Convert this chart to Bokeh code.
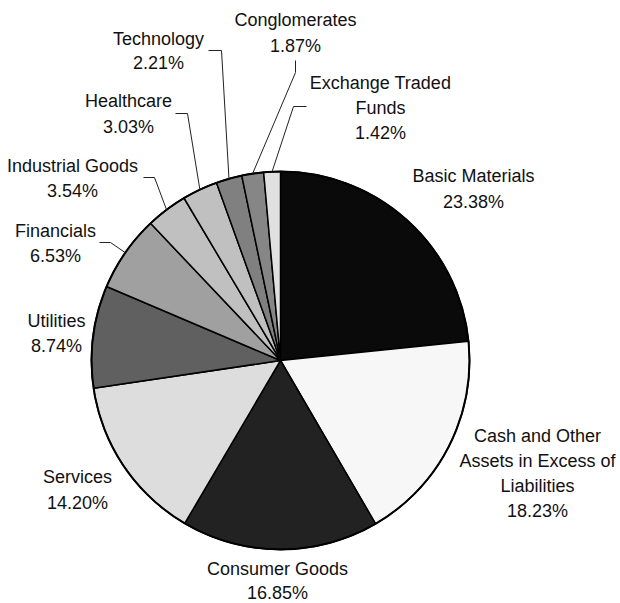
import math
from bokeh.plotting import figure
from bokeh.models import Range1d, ColumnDataSource
from bokeh.core.properties import value
from bokeh.embed import file_html
from bokeh.resources import INLINE

# ---- data ----
categories = ["Basic Materials", "Cash and Other Assets in Excess of Liabilities",
              "Consumer Goods", "Services", "Utilities", "Financials",
              "Industrial Goods", "Healthcare", "Technology", "Conglomerates",
              "Exchange Traded Funds"]
percents = [23.38, 18.23, 16.85, 14.20, 8.74, 6.53, 3.54, 3.03, 2.21, 1.87, 1.42]
label_lines = [
    ["Basic Materials"],
    ["Cash and Other", "Assets in Excess of", "Liabilities"],
    ["Consumer Goods"],
    ["Services"],
    ["Utilities"],
    ["Financials"],
    ["Industrial Goods"],
    ["Healthcare"],
    ["Technology"],
    ["Conglomerates"],
    ["Exchange Traded", "Funds"],
]
colors = ["#0a0a0a", "#f7f7f7", "#222222", "#dddddd", "#606060", "#a0a0a0",
          "#c0c0c0", "#c0c0c0", "#808080", "#868686", "#e0e0e0"]

# ---- layout (pixel coords, y downward) ----
W, H = 620, 603
CX, CY, R = 280, 360, 189
LINE_H = 25.5
label_pos = {  # center x, first line y, line spacing
    "Basic Materials": (473, 175, 26),
    "Cash and Other Assets in Excess of Liabilities": (537, 435, 25),
    "Consumer Goods": (277, 568, 24),
    "Services": (77, 476, 26),
    "Utilities": (56, 320, 25),
    "Financials": (55, 230, 25),
    "Industrial Goods": (72, 165, 25),
    "Healthcare": (128, 100, 26),
    "Technology": (158, 38, 24),
    "Conglomerates": (295, 19, 26),
    "Exchange Traded Funds": (380, 82, 25),
}
leader_elbows = {
    "Financials": [(99, 242), (110, 242)],
    "Industrial Goods": [(143, 177), (154, 177)],
    "Healthcare": [(175, 113), (187, 113)],
    "Technology": [(208, 50), (221, 50)],
    "Conglomerates": [(295, 60), (295, 72)],
    "Exchange Traded Funds": [(306, 106), (293, 106)],
}

def Y(y):
    return H - y

p = figure(width=W, height=H, x_range=Range1d(0, W), y_range=Range1d(0, H),
           output_backend="svg", toolbar_location=None, min_border=0,
           x_axis_type=None, y_axis_type=None)
p.outline_line_color = None
p.grid.visible = False
p.background_fill_color = "white"
p.border_fill_color = "white"

total = sum(percents)
starts, ends, mids = [], [], []
cum = 0.0
for v in percents:
    a0 = math.pi / 2 - 2 * math.pi * cum / total
    cum += v
    a1 = math.pi / 2 - 2 * math.pi * cum / total
    starts.append(a0)
    ends.append(a1)
    mids.append((a0 + a1) / 2)

src = ColumnDataSource(dict(start=starts, end=ends, color=colors))
p.wedge(x=CX, y=Y(CY), radius=R, start_angle="start", end_angle="end",
        direction="clock", fill_color="color", line_color="black",
        line_width=1.5, source=src)
p.circle(x=[CX], y=[Y(CY)], radius=R, fill_color=None, line_color="black",
         line_width=2)

# leader lines
xs, ys = [], []
for cat, m in zip(categories, mids):
    if cat in leader_elbows:
        pts = leader_elbows[cat]
        ex = CX + R * math.cos(m)
        ey = Y(CY) + R * math.sin(m)
        xs.append([pts[0][0], pts[1][0], ex])
        ys.append([Y(pts[0][1]), Y(pts[1][1]), ey])
p.multi_line(xs=xs, ys=ys, line_color="#222222", line_width=1)

# labels
tx, ty, tt = [], [], []
for cat, lines, v in zip(categories, label_lines, percents):
    x0, y0, dy = label_pos[cat]
    for i, t in enumerate(lines + [f"{v:.2f}%"]):
        tx.append(x0)
        ty.append(Y(y0 + i * dy))
        tt.append(t)
p.text(x=tx, y=ty, text=tt, text_align="center", text_baseline="middle",
       text_font=value("Liberation Sans"), text_font_size="18px",
       text_color="#111111")

open("out.html", "w").write(file_html(p, INLINE))
